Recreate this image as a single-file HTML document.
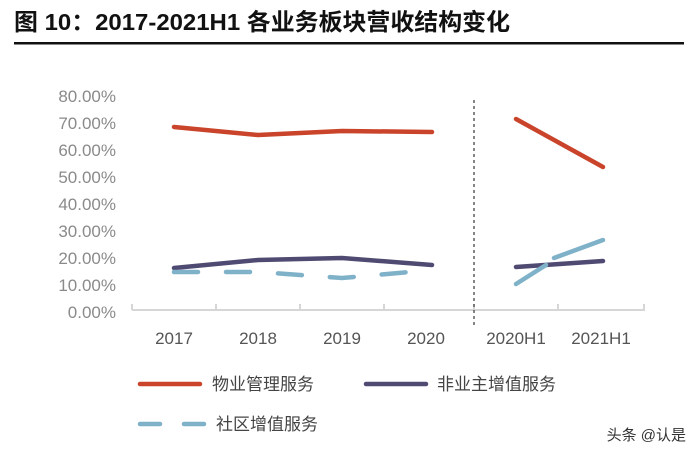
<!DOCTYPE html>
<html><head><meta charset="utf-8"><style>
body{margin:0;background:#fff;width:698px;height:457px;overflow:hidden;font-family:"Liberation Sans","Noto Sans CJK SC",sans-serif}
</style></head><body>
<svg width="698" height="457" xmlns="http://www.w3.org/2000/svg" font-family="Liberation Sans, Noto Sans CJK SC, sans-serif">
<text x="14" y="30" font-size="23.5" font-weight="bold" fill="#111" textLength="496" lengthAdjust="spacingAndGlyphs">图 10：2017-2021H1 各业务板块营收结构变化</text>
<rect x="14" y="42" width="670" height="2.5" fill="#111"/>
<g font-size="17" fill="#8a8a8a" text-anchor="end">
<text x="116" y="102">80.00%</text><text x="116" y="129">70.00%</text><text x="116" y="156">60.00%</text><text x="116" y="183">50.00%</text><text x="116" y="210">40.00%</text><text x="116" y="237">30.00%</text><text x="116" y="264">20.00%</text><text x="116" y="291">10.00%</text><text x="116" y="318">0.00%</text>
</g>
<g stroke="#d6d6d6" stroke-width="2"><line x1="132" y1="310" x2="645" y2="310"/>
<line x1="132" y1="304" x2="132" y2="310"/><line x1="216" y1="304" x2="216" y2="310"/><line x1="300" y1="304" x2="300" y2="310"/><line x1="384" y1="304" x2="384" y2="310"/><line x1="474" y1="304" x2="474" y2="310"/><line x1="558" y1="304" x2="558" y2="310"/><line x1="644" y1="304" x2="644" y2="310"/></g>
<line x1="474" y1="100" x2="474" y2="328" stroke="#444" stroke-width="1.3" stroke-dasharray="3,3"/>
<g font-size="17" fill="#555" text-anchor="middle"><text x="174" y="344">2017</text><text x="258" y="344">2018</text><text x="342" y="344">2019</text><text x="426" y="344">2020</text><text x="516" y="344">2020H1</text><text x="601" y="344">2021H1</text></g>
<g fill="none" stroke-width="4.5" stroke-linecap="round">
<polyline stroke="#c9442a" points="174,127 258,135 342,131 432,132"/>
<polyline stroke="#c9442a" points="516,119 603,167"/>
<polyline stroke="#4f4a72" points="174,268 258,260 342,258 432,265"/>
<polyline stroke="#4f4a72" points="516,267 603,261"/>
<polyline stroke="#7fb2c8" stroke-dasharray="24,28" points="174,272 258,272 342,278 432,270"/>
<polyline stroke="#7fb2c8" points="516,284 546,265"/><polyline stroke="#7fb2c8" points="554,258 603,240"/>
</g>
<g stroke-width="4.5" stroke-linecap="round"><line x1="140" y1="384" x2="200" y2="384" stroke="#c9442a"/>
<line x1="366" y1="384" x2="426" y2="384" stroke="#4f4a72"/>
<line x1="140" y1="424" x2="160" y2="424" stroke="#7fb2c8"/><line x1="184" y1="424" x2="204" y2="424" stroke="#7fb2c8"/></g>
<g font-size="17" fill="#444"><text x="212" y="390">物业管理服务</text><text x="437" y="390">非业主增值服务</text><text x="216" y="430">社区增值服务</text></g>
<text x="686" y="440" font-size="15" fill="#333" text-anchor="end">头条 @认是</text>
</svg>
</body></html>
